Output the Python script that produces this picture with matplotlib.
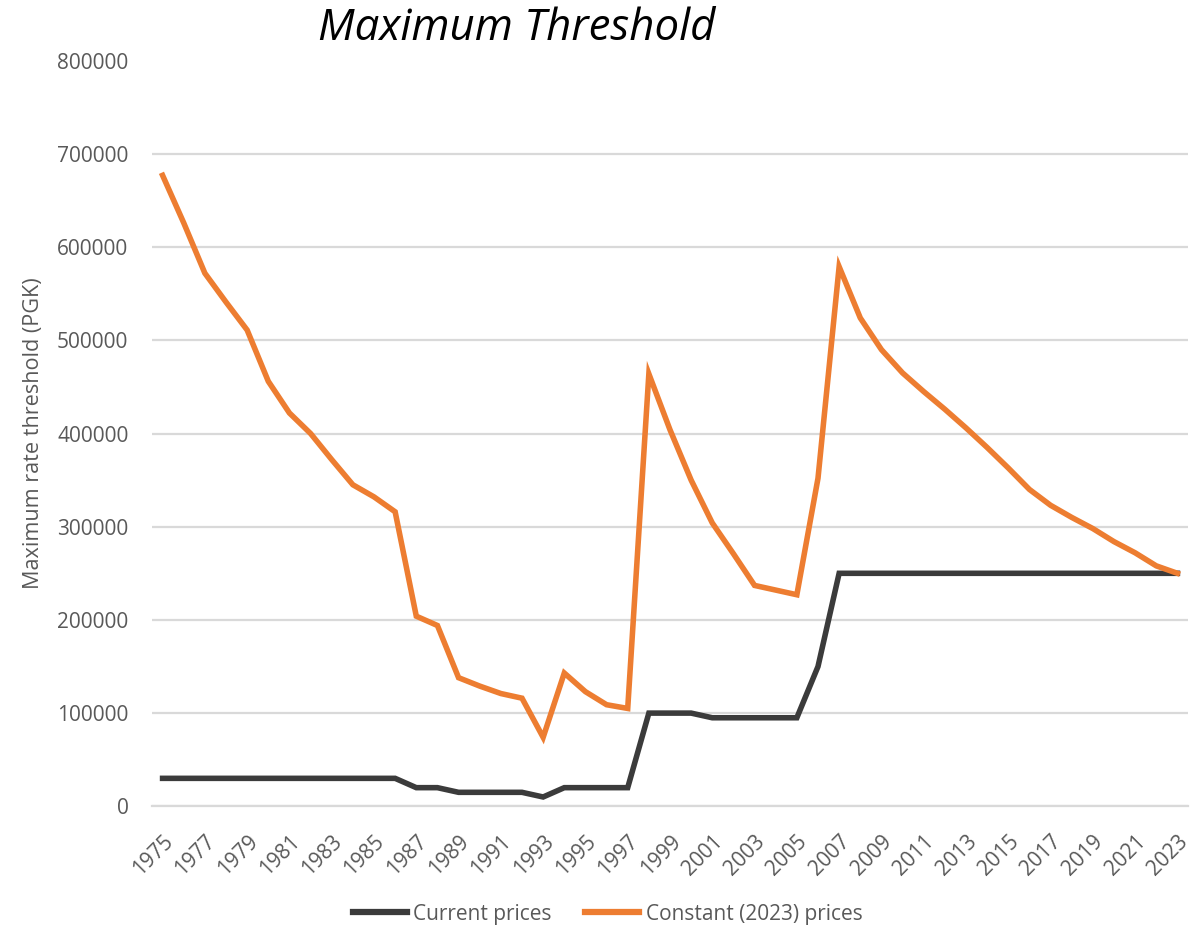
import matplotlib
matplotlib.use("Agg")
import matplotlib.pyplot as plt
from matplotlib.lines import Line2D

years = list(range(1975, 2024))

current_prices = [
    30000, 30000, 30000, 30000, 30000, 30000, 30000, 30000, 30000, 30000,  # 1975-1984
    30000, 30000, 20000, 20000, 15000, 15000, 15000, 15000, 10000, 20000,  # 1985-1994
    20000, 20000, 20000, 100000, 100000, 100000, 95000, 95000, 95000, 95000,  # 1995-2004
    95000, 150000, 250000, 250000, 250000, 250000, 250000, 250000, 250000, 250000,  # 2005-2014
    250000, 250000, 250000, 250000, 250000, 250000, 250000, 250000, 250000,  # 2015-2023
]

constant_2023_prices = [
    677000, 626000, 572000, 541000, 511000, 456000, 422000, 400000, 372000, 345000,  # 1975-1984
    332000, 316000, 204000, 194000, 138000, 129000, 121000, 116000, 74000, 143000,  # 1985-1994
    123000, 109000, 105000, 464000, 404000, 350000, 304000, 271000, 237000, 232000,  # 1995-2004
    227000, 352000, 579000, 524000, 490000, 465000, 445000, 426000, 406000, 385000,  # 2005-2014
    363000, 340000, 323000, 310000, 298000, 284000, 272000, 258000, 250000,  # 2015-2023
]

y_ticks = [0, 100000, 200000, 300000, 400000, 500000, 600000, 700000, 800000]
x_tick_years = years[::2]

series_labels = ["Current prices", "Constant (2023) prices"]
series_colors = ["#3b3b3b", "#ED7D31"]

text_grey = "#595959"
grid_grey = "#d9d9d9"
font = "Open Sans"

fig = plt.figure(figsize=(11.96, 9.27), dpi=100)
ax = fig.add_axes([0.1271, 0.1302, 0.8662, 0.8043])

ax.plot(years, current_prices, color=series_colors[0], lw=4,
        solid_joinstyle="miter", zorder=3)
ax.plot(years, constant_2023_prices, color=series_colors[1], lw=4,
        solid_joinstyle="miter", zorder=4)

ax.set_xlim(1974.5, 2023.5)
ax.set_ylim(0, 800000)

ax.set_yticks(y_ticks)
ax.set_yticklabels([str(v) for v in y_ticks], fontfamily=font, fontsize=15,
                   color=text_grey)
ax.set_xticks(x_tick_years)
ax.set_xticklabels([str(y) for y in x_tick_years], fontfamily=font, fontsize=15,
                   color=text_grey, rotation=45, ha="right", va="top",
                   rotation_mode="anchor")
ax.tick_params(axis="both", length=0)
ax.tick_params(axis="y", pad=17)
ax.tick_params(axis="x", pad=18)

ax.grid(axis="y", color=grid_grey, lw=1.6, zorder=0)
ax.get_ygridlines()[-1].set_visible(False)
ax.set_axisbelow(True)
for side in ("top", "right", "left"):
    ax.spines[side].set_visible(False)
ax.spines["bottom"].set_color(grid_grey)
ax.spines["bottom"].set_linewidth(1.6)

ax.set_ylabel("Maximum rate threshold (PGK)", fontfamily=font, fontsize=15.6,
              color=text_grey)
ax.yaxis.set_label_coords(-0.104, 0.5)

fig.text(0.432, 0.9568, "Maximum Threshold", fontfamily=font, fontsize=31.5,
         fontstyle="italic", color="black", ha="center", va="baseline")

handles = [Line2D([0], [0], color=c, lw=4.5) for c in series_colors]
fig.legend(handles, series_labels, loc="center", bbox_to_anchor=(0.508, 0.014),
           ncol=2, frameon=False, handlelength=2.6, handletextpad=0.3,
           columnspacing=1.6, prop={"family": font, "size": 15},
           labelcolor=text_grey)

fig.savefig("out.png", dpi=100)
